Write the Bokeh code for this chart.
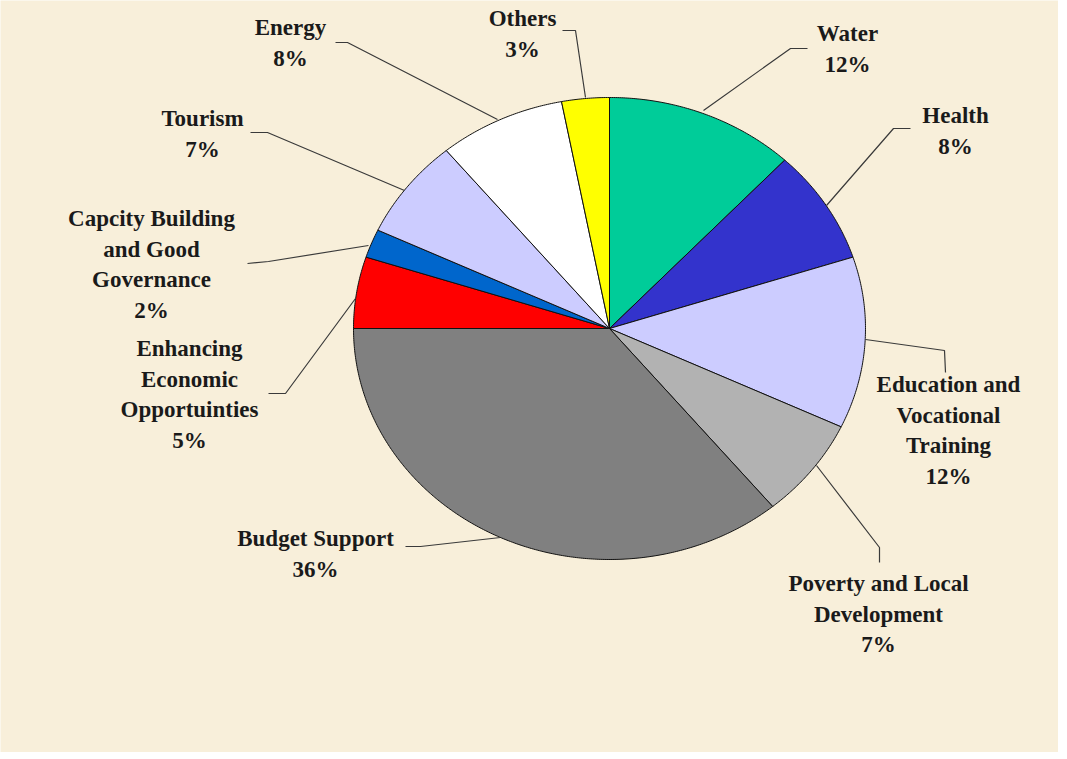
import numpy as np
from bokeh.plotting import figure
from bokeh.models import Range1d, ColumnDataSource
from bokeh.core.properties import value
from bokeh.embed import file_html
from bokeh.resources import INLINE

# ---- data (clockwise from 12 o'clock) ----
categories = ["Water", "Health", "Education and\nVocational\nTraining",
              "Poverty and Local\nDevelopment", "Budget Support",
              "Enhancing\nEconomic\nOpportuinties",
              "Capcity Building\nand Good\nGovernance", "Tourism", "Energy", "Others"]
shares = [12, 8, 12, 7, 36, 5, 2, 7, 8, 3]
pct_labels = ["12%", "8%", "12%", "7%", "36%", "5%", "2%", "7%", "8%", "3%"]

# ---- styles / layout ----
colors = ["#00CC99", "#3333CC", "#CCCCFF", "#B2B2B2", "#808080",
          "#FF0000", "#0066CC", "#CCCCFF", "#FFFFFF", "#FFFF00"]
W, H = 1058, 752
CX, CY, RX, RY = 609, 328, 256, 231
LINE_STEP = 30.5
label_pos = [(847, 33), (955, 115), (948, 384), (878, 583), (315, 538),
             (189, 348), (151, 218), (202, 118), (290, 27), (522, 18)]
leaders = [
    [(807, 48), (790, 48), (703, 110)],
    [(910, 128), (893, 128), (826, 205)],
    [(865, 339), (944, 350), (945, 372)],
    [(816, 465), (879, 547), (879, 562)],
    [(405, 546), (420, 546), (500, 537)],
    [(268, 393), (285, 393), (355, 298)],
    [(247, 263), (268, 261), (368, 245)],
    [(250, 132), (267, 132), (404, 190)],
    [(335, 42), (347, 42), (497, 119)],
    [(562, 30), (575, 30), (585, 97)],
]

p = figure(width=W, height=H, output_backend="svg", toolbar_location=None,
           x_range=Range1d(0, W), y_range=Range1d(H, 0),
           min_border=0, outline_line_color=None)
p.axis.visible = False
p.grid.visible = False
bg = "#F8EFDA"
p.background_fill_color = bg
p.border_fill_color = bg

# wedges as elliptical patches computed from the shares
total = float(sum(shares))
cum = np.concatenate([[0], np.cumsum(shares)]) / total
xs, ys = [], []
for i in range(len(shares)):
    t = np.linspace(cum[i], cum[i + 1], max(4, int(shares[i] * 8))) * 2 * np.pi
    px = np.concatenate([[CX], CX + RX * np.sin(t), [CX]])
    py = np.concatenate([[CY], CY - RY * np.cos(t), [CY]])
    xs.append(px.tolist())
    ys.append(py.tolist())
p.patches(xs=xs, ys=ys, fill_color=colors, line_color="#111111", line_width=1)

# leader lines
p.multi_line(xs=[[a for a, b in L] for L in leaders],
             ys=[[b for a, b in L] for L in leaders],
             line_color="#3a3a3a", line_width=1.2)

# labels
tx, ty, tt = [], [], []
for cat, pct, (x0, y0) in zip(categories, pct_labels, label_pos):
    lines = cat.split("\n") + [pct]
    for k, ln in enumerate(lines):
        tx.append(x0)
        ty.append(y0 + k * LINE_STEP)
        tt.append(ln)
src = ColumnDataSource(dict(x=tx, y=ty, text=tt))
p.text(x="x", y="y", text="text", source=src, text_align="center",
       text_baseline="middle", text_font=value("Liberation Serif"),
       text_font_style="bold", text_font_size="23px", text_color="#1a1a1a")

open("out.html", "w").write(file_html(p, INLINE))
